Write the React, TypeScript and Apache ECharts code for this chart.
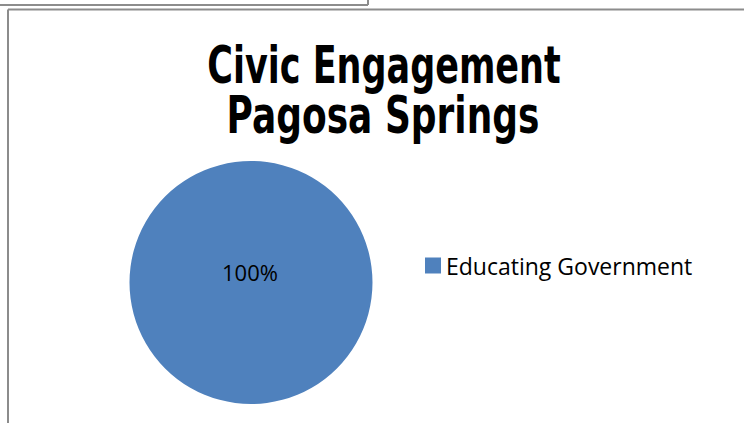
import React, { useEffect, useRef } from "react";
import * as echarts from "echarts";

const titleLines = ["Civic Engagement", "Pagosa Springs"];
const categories = ["Educating Government"];
const values = [1];
const colors = ["#4F81BD"];

export default function App() {
  const ref = useRef<HTMLDivElement>(null);
  useEffect(() => {
    document.body.style.margin = "0";
    const chart = echarts.init(ref.current!, null, { renderer: "svg" });
    const titleFont = {
      fontFamily: "'DejaVu Sans', sans-serif",
      fontWeight: "bold" as const,
      fontSize: 52,
      fill: "#000000",
      textAlign: "center" as const,
      textVerticalAlign: "middle" as const,
    };
    chart.setOption({
      animation: false,
      backgroundColor: "#ffffff",
      legend: {
        orient: "vertical",
        left: 425,
        top: 254,
        icon: "rect",
        itemWidth: 16,
        itemHeight: 16,
        itemGap: 8,
        padding: 0,
        data: categories,
        textStyle: {
          fontFamily: "'Open Sans', sans-serif",
          fontSize: 23,
          color: "#000000",
          padding: [0, 0, 0, 0],
        },
      },
      graphic: [
        { type: "line", shape: { x1: 0, y1: 5, x2: 368, y2: 5 }, style: { stroke: "#8c8c8c", lineWidth: 2 } },
        { type: "line", shape: { x1: 368, y1: 0, x2: 368, y2: 5 }, style: { stroke: "#8c8c8c", lineWidth: 2 } },
        { type: "line", shape: { x1: 8, y1: 9.5, x2: 744, y2: 9.5 }, style: { stroke: "#8c8c8c", lineWidth: 2 } },
        { type: "line", shape: { x1: 8, y1: 9.5, x2: 8, y2: 423 }, style: { stroke: "#8c8c8c", lineWidth: 2 } },
        {
          type: "text",
          x: 384,
          y: 65,
          scaleX: 0.673,
          style: { ...titleFont, text: titleLines[0] },
        },
        {
          type: "text",
          x: 383,
          y: 115,
          scaleX: 0.692,
          style: { ...titleFont, text: titleLines[1] },
        },
      ],
      series: [
        {
          type: "pie",
          center: [251, 282.5],
          radius: 121.5,
          startAngle: 90,
          color: colors,
          data: categories.map((c, i) => ({ name: c, value: values[i] })),
          label: {
            show: true,
            position: "center",
            offset: [-1, -11],
            formatter: (p: any) => `${Math.round(p.percent)}%`,
            fontFamily: "'Open Sans', sans-serif",
            fontSize: 22,
            color: "#000000",
          },
          labelLine: { show: false },
          emphasis: { disabled: true },
        },
      ],
    });
    return () => chart.dispose();
  }, []);
  return (
    <div
      ref={ref}
      style={{ position: "absolute", left: 0, top: 0, width: 744, height: 423 }}
    />
  );
}
